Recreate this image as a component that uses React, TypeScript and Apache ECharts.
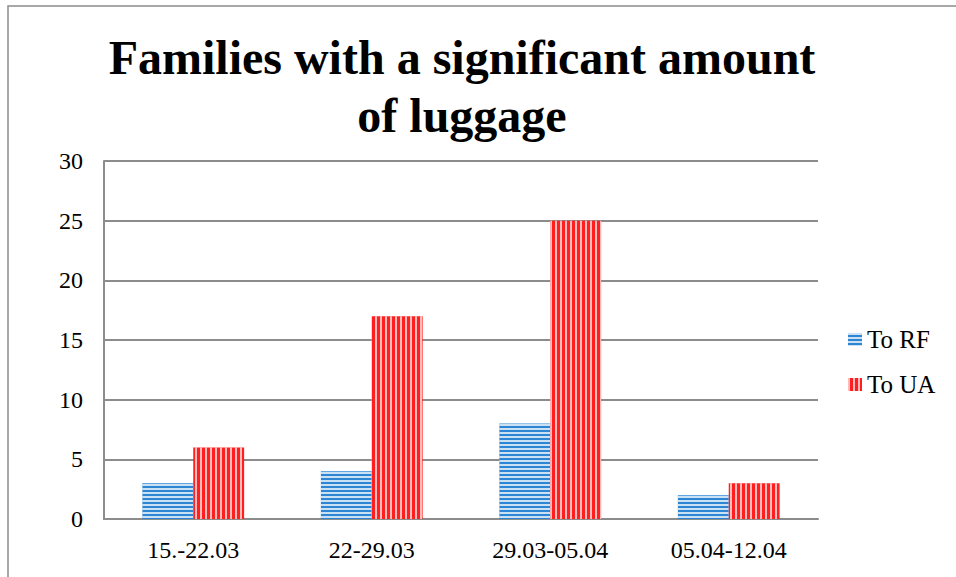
import React, { useEffect, useRef } from "react";
import * as echarts from "echarts";

const categories = ["15.-22.03", "22-29.03", "29.03-05.04", "05.04-12.04"];
const toRF = [3, 4, 8, 2];
const toUA = [6, 17, 25, 3];
const seriesNames = ["To RF", "To UA"];
const titleLines = ["Families with a significant amount", "of luggage"];

const FONT = "'Liberation Serif', 'Times New Roman', serif";
const GRAY = "#8c8c8c";

export default function App() {
  const ref = useRef<HTMLDivElement>(null);
  useEffect(() => {
    if (!ref.current) return;
    const chart = echarts.init(ref.current, undefined, { renderer: "svg" });
    const titleStyle = {
      fontFamily: FONT,
      fontSize: 48,
      fontWeight: "bold",
      color: "#000",
    };
    chart.setOption({
      animation: false,
      backgroundColor: "#ffffff",
      textStyle: { fontFamily: FONT },
      title: [
        { text: titleLines[0], left: 462, top: 33, textAlign: "center", padding: 0, textStyle: titleStyle },
        { text: titleLines[1], left: 462, top: 91, textAlign: "center", padding: 0, textStyle: titleStyle },
      ],
      graphic: [
        {
          type: "rect",
          shape: { x: 8, y: 6, width: 1200, height: 1000 },
          style: { fill: "none", stroke: GRAY, lineWidth: 1.5 },
          silent: true,
        },
      ],
      legend: {
        orient: "vertical",
        left: 843,
        top: 322,
        icon: "rect",
        itemWidth: 14,
        itemHeight: 13,
        itemGap: 20,
        textStyle: { fontFamily: FONT, fontSize: 25, color: "#000" },
        data: seriesNames,
      },
      grid: { left: 104, right: 138, top: 161, bottom: 58, containLabel: false },
      xAxis: {
        type: "category",
        data: categories,
        axisLine: { show: true, lineStyle: { color: GRAY, width: 2 } },
        axisTick: { show: false },
        axisLabel: { fontFamily: FONT, fontSize: 24, color: "#000", margin: 19 },
      },
      yAxis: {
        type: "value",
        min: 0,
        max: 30,
        interval: 5,
        axisLine: { show: true, lineStyle: { color: GRAY, width: 2 } },
        axisTick: { show: false },
        splitLine: { show: true, lineStyle: { color: GRAY, width: 2 } },
        axisLabel: { fontFamily: FONT, fontSize: 24, color: "#000", margin: 21 },
      },
      series: [
        {
          name: seriesNames[0],
          type: "bar",
          data: toRF,
          barGap: "0%",
          barCategoryGap: "43%",
          itemStyle: {
            color: "#2c86d4",
            decal: {
              symbol: "rect",
              symbolSize: 1,
              color: "rgba(255,255,255,0.75)",
              dashArrayX: [1, 0],
              dashArrayY: [2, 2],
              rotation: 0,
            },
          },
        },
        {
          name: seriesNames[1],
          type: "bar",
          data: toUA,
          barGap: "0%",
          barCategoryGap: "43%",
          itemStyle: {
            color: "#ff1f1f",
            decal: {
              symbol: "rect",
              symbolSize: 1,
              color: "rgba(255,255,255,0.7)",
              dashArrayX: [2, 3],
              dashArrayY: [1, 0],
              rotation: 0,
            },
          },
        },
      ],
    });
    return () => chart.dispose();
  }, []);
  return (
    <div
      ref={ref}
      style={{ position: "absolute", left: 0, top: 0, width: 956, height: 577 }}
    />
  );
}
